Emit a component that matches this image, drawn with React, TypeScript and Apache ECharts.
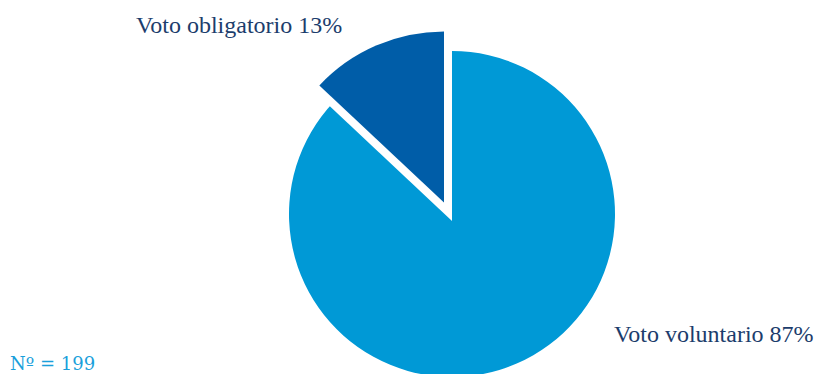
import React, { useEffect, useRef } from "react";
import * as echarts from "echarts";

const categories = ["Voto voluntario", "Voto obligatorio"];
const shares = [87, 13];
const sampleLabel = "Nº";
const sampleSize = 199;

const LIGHT = "#0099D6";
const DARK = "#005DA8";
const TEXT = "#1C3D6C";
const NOTE = "#1A9FDB";
const LABEL_FONT = "'Liberation Serif', serif";

export default function App() {
  const ref = useRef<HTMLDivElement>(null);

  useEffect(() => {
    document.body.style.margin = "0";
    if (!ref.current) return;
    const chart = echarts.init(ref.current, null, { renderer: "svg" });

    const labelPos: Record<number, { x: number; y: number }> = {
      0: { x: 614, y: 334 },
      1: { x: 136, y: 25 },
    };

    const slices = (visibleIndex: number, color: string, showLabel: boolean) =>
      categories.map((name, i) => ({
        name,
        value: shares[i],
        itemStyle: { color: i === visibleIndex ? color : "rgba(0,0,0,0)" },
        label: { show: showLabel && i === visibleIndex },
      }));

    const common = {
      type: "pie" as const,
      startAngle: 90,
      clockwise: true,
      silent: true,
      avoidLabelOverlap: false,
      emphasis: { disabled: true },
      labelLine: { show: false },
      label: {
        formatter: "{b} {d}%",
        color: TEXT,
        fontFamily: LABEL_FONT,
        fontSize: 24,
      },
      labelLayout: (p: any) => ({
        x: labelPos[p.dataIndex].x,
        y: labelPos[p.dataIndex].y,
        align: "left",
        verticalAlign: "middle",
      }),
    };

    chart.setOption({
      animation: false,
      backgroundColor: "#ffffff",
      series: [
        { ...common, center: [452, 214], radius: 163, data: slices(0, LIGHT, true) },
        { ...common, center: [452, 221], radius: 176, data: slices(1, "#ffffff", false) },
        { ...common, center: [444, 202.5], radius: 171, data: slices(1, DARK, true) },
      ],
      graphic: [
        {
          type: "text",
          x: 10,
          y: 363.5,
          style: {
            text: `${sampleLabel} = ${sampleSize}`,
            fill: NOTE,
            font: "18px 'DejaVu Serif', serif",
            verticalAlign: "middle",
          },
        },
      ],
    });

    return () => chart.dispose();
  }, []);

  return <div ref={ref} style={{ width: 820, height: 374 }} />;
}
